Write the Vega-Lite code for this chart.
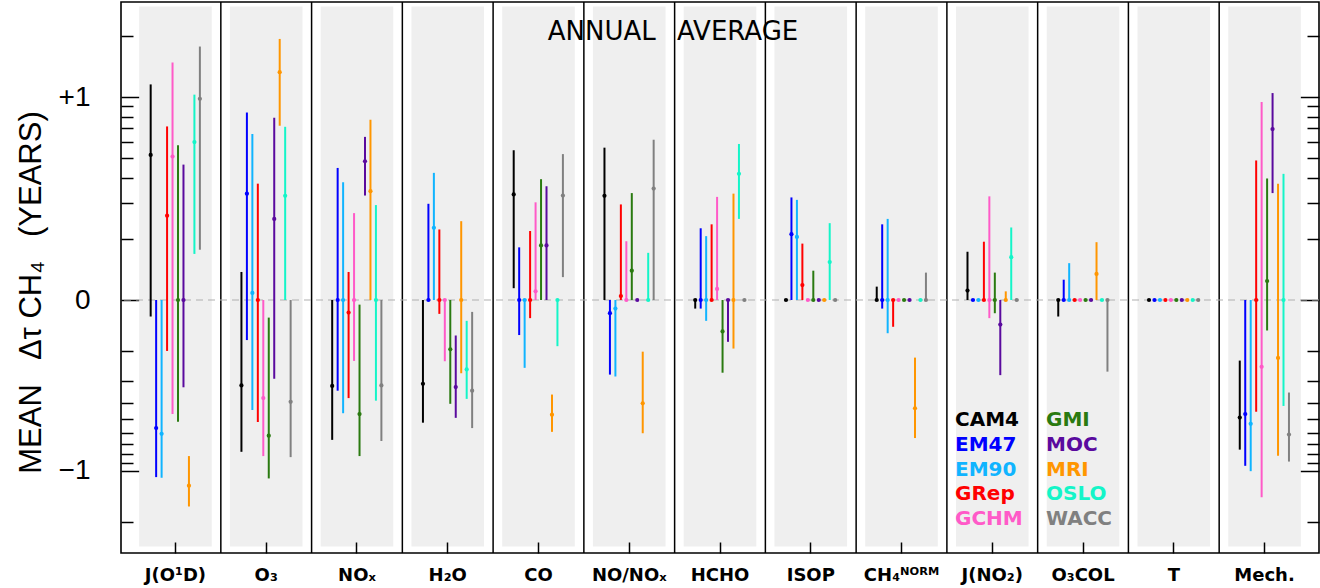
{
  "$schema": "https://vega.github.io/schema/vega-lite/v6.json",
  "width": 1198,
  "height": 551,
  "autosize": "none",
  "padding": {"left": 121, "top": 2, "right": 1, "bottom": 35},
  "background": "white",
  "config": {"view": {"stroke": "black", "strokeWidth": 1.6}, "font": "DejaVu Sans"},
  "title": {"text": "ANNUAL\u2002 AVERAGE", "anchor": "middle", "frame": "group", "orient": "top", "offset": 0, "baseline": "alphabetic", "dy": 65, "dx": -47, "fontSize": 26, "font": "DejaVu Sans", "fontWeight": "normal", "color": "black"},
  "datasets": {
    "cats": [
      {"cat": "J(O¹D)"}, {"cat": "O₃"}, {"cat": "NOₓ"}, {"cat": "H₂O"}, {"cat": "CO"}, {"cat": "NO/NOₓ"}, {"cat": "HCHO"}, {"cat": "ISOP"}, {"cat": "CH₄ᴺᴼᴿᴹ"}, {"cat": "J(NO₂)"}, {"cat": "O₃COL"}, {"cat": "T"}, {"cat": "Mech."}
    ],
    "d": [
      {"cat": "J(O¹D)", "model": "CAM4", "mean": 0.52, "lo": -0.125, "hi": 1.16},
      {"cat": "J(O¹D)", "model": "EM47", "mean": -0.566, "lo": -1.10, "hi": 0},
      {"cat": "J(O¹D)", "model": "EM90", "mean": -0.61, "lo": -1.11, "hi": 0},
      {"cat": "J(O¹D)", "model": "GRep", "mean": 0.261, "lo": -0.199, "hi": 0.717},
      {"cat": "J(O¹D)", "model": "GCHM", "mean": 0.51, "lo": -0.469, "hi": 1.48},
      {"cat": "J(O¹D)", "model": "GMI", "mean": 0, "lo": -0.519, "hi": 0.58},
      {"cat": "J(O¹D)", "model": "MOC", "mean": 0, "lo": -0.326, "hi": 0.467},
      {"cat": "J(O¹D)", "model": "MRI", "mean": -1.23, "lo": -1.64, "hi": -0.824},
      {"cat": "J(O¹D)", "model": "OSLO", "mean": 0.6, "lo": 0.169, "hi": 1.03},
      {"cat": "J(O¹D)", "model": "WACC", "mean": 0.98, "lo": 0.177, "hi": 1.79},
      {"cat": "O₃", "model": "CAM4", "mean": -0.318, "lo": -0.778, "hi": 0.138},
      {"cat": "O₃", "model": "EM47", "mean": 0.335, "lo": -0.172, "hi": 0.84},
      {"cat": "O₃", "model": "EM90", "mean": 0.109, "lo": -0.444, "hi": 0.659},
      {"cat": "O₃", "model": "GRep", "mean": 0, "lo": -0.521, "hi": 0.375},
      {"cat": "O₃", "model": "GCHM", "mean": -0.377, "lo": -0.824, "hi": 0},
      {"cat": "O₃", "model": "GMI", "mean": -0.626, "lo": -1.12, "hi": -0.127},
      {"cat": "O₃", "model": "MOC", "mean": 0.251, "lo": -0.29, "hi": 0.79},
      {"cat": "O₃", "model": "MRI", "mean": 1.33, "lo": 0.723, "hi": 1.94},
      {"cat": "O₃", "model": "OSLO", "mean": 0.327, "lo": 0, "hi": 0.714},
      {"cat": "O₃", "model": "WACC", "mean": -0.396, "lo": -0.836, "hi": 0},
      {"cat": "NOₓ", "model": "CAM4", "mean": -0.32, "lo": -0.663, "hi": 0},
      {"cat": "NOₓ", "model": "EM47", "mean": 0, "lo": -0.341, "hi": 0.45},
      {"cat": "NOₓ", "model": "EM90", "mean": 0, "lo": -0.464, "hi": 0.381},
      {"cat": "NOₓ", "model": "GRep", "mean": -0.119, "lo": -0.377, "hi": 0.138},
      {"cat": "NOₓ", "model": "GCHM", "mean": 0, "lo": -0.229, "hi": 0.269},
      {"cat": "NOₓ", "model": "GMI", "mean": -0.469, "lo": -0.824, "hi": -0.107},
      {"cat": "NOₓ", "model": "MOC", "mean": 0.484, "lo": 0.328, "hi": 0.638},
      {"cat": "NOₓ", "model": "MRI", "mean": 0.344, "lo": 0, "hi": 0.774},
      {"cat": "NOₓ", "model": "OSLO", "mean": 0, "lo": -0.39, "hi": 0.294},
      {"cat": "NOₓ", "model": "WACC", "mean": -0.318, "lo": -0.673, "hi": 0},
      {"cat": "H₂O", "model": "CAM4", "mean": -0.311, "lo": -0.526, "hi": 0},
      {"cat": "H₂O", "model": "EM47", "mean": 0, "lo": 0, "hi": 0.298},
      {"cat": "H₂O", "model": "EM90", "mean": 0.228, "lo": 0, "hi": 0.425},
      {"cat": "H₂O", "model": "GRep", "mean": 0, "lo": -0.121, "hi": 0.224},
      {"cat": "H₂O", "model": "GCHM", "mean": 0, "lo": -0.23, "hi": 0},
      {"cat": "H₂O", "model": "GMI", "mean": -0.195, "lo": -0.407, "hi": 0},
      {"cat": "H₂O", "model": "MOC", "mean": -0.325, "lo": -0.492, "hi": -0.162},
      {"cat": "H₂O", "model": "MRI", "mean": 0, "lo": -0.27, "hi": 0.245},
      {"cat": "H₂O", "model": "OSLO", "mean": -0.256, "lo": -0.381, "hi": -0.133},
      {"cat": "H₂O", "model": "WACC", "mean": -0.341, "lo": -0.566, "hi": -0.118},
      {"cat": "CO", "model": "CAM4", "mean": 0.332, "lo": 0.115, "hi": 0.549},
      {"cat": "CO", "model": "EM47", "mean": 0, "lo": -0.161, "hi": 0.182},
      {"cat": "CO", "model": "EM90", "mean": 0, "lo": -0.25, "hi": 0},
      {"cat": "CO", "model": "GRep", "mean": 0, "lo": -0.128, "hi": 0.22},
      {"cat": "CO", "model": "GCHM", "mean": 0.111, "lo": 0, "hi": 0.303},
      {"cat": "CO", "model": "GMI", "mean": 0.186, "lo": 0, "hi": 0.394},
      {"cat": "CO", "model": "MOC", "mean": 0.186, "lo": 0, "hi": 0.364},
      {"cat": "CO", "model": "MRI", "mean": -0.473, "lo": -0.594, "hi": -0.359},
      {"cat": "CO", "model": "OSLO", "mean": 0, "lo": -0.187, "hi": 0},
      {"cat": "CO", "model": "WACC", "mean": 0.328, "lo": 0.13, "hi": 0.525},
      {"cat": "NO/NOₓ", "model": "CAM4", "mean": 0.327, "lo": 0, "hi": 0.565},
      {"cat": "NO/NOₓ", "model": "EM47", "mean": -0.12, "lo": -0.275, "hi": 0},
      {"cat": "NO/NOₓ", "model": "EM90", "mean": -0.113, "lo": -0.282, "hi": 0},
      {"cat": "NO/NOₓ", "model": "GRep", "mean": 0.105, "lo": 0, "hi": 0.296},
      {"cat": "NO/NOₓ", "model": "GCHM", "mean": 0, "lo": 0, "hi": 0.195},
      {"cat": "NO/NOₓ", "model": "GMI", "mean": 0.14, "lo": 0, "hi": 0.337},
      {"cat": "NO/NOₓ", "model": "MOC", "mean": 0, "lo": 0, "hi": 0},
      {"cat": "NO/NOₓ", "model": "MRI", "mean": -0.404, "lo": -0.605, "hi": -0.201},
      {"cat": "NO/NOₓ", "model": "OSLO", "mean": 0, "lo": 0, "hi": 0.171},
      {"cat": "NO/NOₓ", "model": "WACC", "mean": 0.354, "lo": 0, "hi": 0.617},
      {"cat": "HCHO", "model": "CAM4", "mean": 0, "lo": -0.113, "hi": 0},
      {"cat": "HCHO", "model": "EM47", "mean": 0, "lo": -0.113, "hi": 0.227},
      {"cat": "HCHO", "model": "EM90", "mean": 0, "lo": -0.133, "hi": 0.207},
      {"cat": "HCHO", "model": "GRep", "mean": 0, "lo": 0, "hi": 0.237},
      {"cat": "HCHO", "model": "GCHM", "mean": 0.114, "lo": 0, "hi": 0.323},
      {"cat": "HCHO", "model": "GMI", "mean": -0.153, "lo": -0.268, "hi": 0},
      {"cat": "HCHO", "model": "MOC", "mean": 0, "lo": -0.176, "hi": 0},
      {"cat": "HCHO", "model": "MRI", "mean": 0, "lo": -0.193, "hi": 0.335},
      {"cat": "HCHO", "model": "OSLO", "mean": 0.42, "lo": 0.251, "hi": 0.588},
      {"cat": "HCHO", "model": "WACC", "mean": 0, "lo": 0, "hi": 0},
      {"cat": "ISOP", "model": "CAM4", "mean": 0, "lo": 0, "hi": 0},
      {"cat": "ISOP", "model": "EM47", "mean": 0.212, "lo": 0, "hi": 0.321},
      {"cat": "ISOP", "model": "EM90", "mean": 0.205, "lo": 0, "hi": 0.312},
      {"cat": "ISOP", "model": "GRep", "mean": 0.119, "lo": 0, "hi": 0.19},
      {"cat": "ISOP", "model": "GCHM", "mean": 0, "lo": 0, "hi": 0},
      {"cat": "ISOP", "model": "GMI", "mean": 0, "lo": 0, "hi": 0.14},
      {"cat": "ISOP", "model": "MOC", "mean": 0, "lo": 0, "hi": 0},
      {"cat": "ISOP", "model": "MRI", "mean": 0, "lo": 0, "hi": 0},
      {"cat": "ISOP", "model": "OSLO", "mean": 0.154, "lo": 0, "hi": 0.24},
      {"cat": "ISOP", "model": "WACC", "mean": 0, "lo": 0, "hi": 0},
      {"cat": "CH₄ᴺᴼᴿᴹ", "model": "CAM4", "mean": 0, "lo": 0, "hi": 0.117},
      {"cat": "CH₄ᴺᴼᴿᴹ", "model": "EM47", "mean": 0, "lo": -0.113, "hi": 0.237},
      {"cat": "CH₄ᴺᴼᴿᴹ", "model": "EM90", "mean": 0, "lo": -0.157, "hi": 0.251},
      {"cat": "CH₄ᴺᴼᴿᴹ", "model": "GRep", "mean": 0, "lo": -0.144, "hi": 0},
      {"cat": "CH₄ᴺᴼᴿᴹ", "model": "GCHM", "mean": 0, "lo": 0, "hi": 0},
      {"cat": "CH₄ᴺᴼᴿᴹ", "model": "GMI", "mean": 0, "lo": 0, "hi": 0},
      {"cat": "CH₄ᴺᴼᴿᴹ", "model": "MOC", "mean": 0, "lo": 0, "hi": 0},
      {"cat": "CH₄ᴺᴼᴿᴹ", "model": "MRI", "mean": -0.434, "lo": -0.647, "hi": -0.219},
      {"cat": "CH₄ᴺᴼᴿᴹ", "model": "OSLO", "mean": 0, "lo": 0, "hi": 0},
      {"cat": "CH₄ᴺᴼᴿᴹ", "model": "WACC", "mean": 0, "lo": 0, "hi": 0.137},
      {"cat": "J(NO₂)", "model": "CAM4", "mean": 0.112, "lo": 0, "hi": 0.173},
      {"cat": "J(NO₂)", "model": "EM47", "mean": 0, "lo": 0, "hi": 0},
      {"cat": "J(NO₂)", "model": "EM90", "mean": 0, "lo": 0, "hi": 0},
      {"cat": "J(NO₂)", "model": "GRep", "mean": 0, "lo": 0, "hi": 0.194},
      {"cat": "J(NO₂)", "model": "GCHM", "mean": 0, "lo": -0.128, "hi": 0.325},
      {"cat": "J(NO₂)", "model": "GMI", "mean": 0, "lo": -0.12, "hi": 0.137},
      {"cat": "J(NO₂)", "model": "MOC", "mean": -0.14, "lo": -0.277, "hi": 0},
      {"cat": "J(NO₂)", "model": "MRI", "mean": 0, "lo": 0, "hi": 0.111},
      {"cat": "J(NO₂)", "model": "OSLO", "mean": 0.163, "lo": 0, "hi": 0.229},
      {"cat": "J(NO₂)", "model": "WACC", "mean": 0, "lo": 0, "hi": 0},
      {"cat": "O₃COL", "model": "CAM4", "mean": 0, "lo": -0.125, "hi": 0},
      {"cat": "O₃COL", "model": "EM47", "mean": 0, "lo": 0, "hi": 0.126},
      {"cat": "O₃COL", "model": "EM90", "mean": 0, "lo": 0, "hi": 0.152},
      {"cat": "O₃COL", "model": "GRep", "mean": 0, "lo": 0, "hi": 0},
      {"cat": "O₃COL", "model": "GCHM", "mean": 0, "lo": 0, "hi": 0},
      {"cat": "O₃COL", "model": "GMI", "mean": 0, "lo": 0, "hi": 0},
      {"cat": "O₃COL", "model": "MOC", "mean": 0, "lo": 0, "hi": 0},
      {"cat": "O₃COL", "model": "MRI", "mean": 0.135, "lo": 0, "hi": 0.193},
      {"cat": "O₃COL", "model": "OSLO", "mean": 0, "lo": 0, "hi": 0},
      {"cat": "O₃COL", "model": "WACC", "mean": 0, "lo": -0.264, "hi": 0},
      {"cat": "T", "model": "CAM4", "mean": 0, "lo": 0, "hi": 0},
      {"cat": "T", "model": "EM47", "mean": 0, "lo": 0, "hi": 0},
      {"cat": "T", "model": "EM90", "mean": 0, "lo": 0, "hi": 0},
      {"cat": "T", "model": "GRep", "mean": 0, "lo": 0, "hi": 0},
      {"cat": "T", "model": "GCHM", "mean": 0, "lo": 0, "hi": 0},
      {"cat": "T", "model": "GMI", "mean": 0, "lo": 0, "hi": 0},
      {"cat": "T", "model": "MOC", "mean": 0, "lo": 0, "hi": 0},
      {"cat": "T", "model": "MRI", "mean": 0, "lo": 0, "hi": 0},
      {"cat": "T", "model": "OSLO", "mean": 0, "lo": 0, "hi": 0},
      {"cat": "T", "model": "WACC", "mean": 0, "lo": 0, "hi": 0},
      {"cat": "Mech.", "model": "CAM4", "mean": -0.49, "lo": -0.756, "hi": -0.228},
      {"cat": "Mech.", "model": "EM47", "mean": -0.469, "lo": -0.94, "hi": 0},
      {"cat": "Mech.", "model": "EM90", "mean": -0.534, "lo": -1.01, "hi": 0},
      {"cat": "Mech.", "model": "GRep", "mean": 0, "lo": -0.455, "hi": 0.488},
      {"cat": "Mech.", "model": "GCHM", "mean": -0.247, "lo": -1.44, "hi": 0.945},
      {"cat": "Mech.", "model": "GMI", "mean": 0.124, "lo": -0.151, "hi": 0.397},
      {"cat": "Mech.", "model": "MOC", "mean": 0.695, "lo": 0.337, "hi": 1.05},
      {"cat": "Mech.", "model": "MRI", "mean": -0.22, "lo": -0.82, "hi": 0.375},
      {"cat": "Mech.", "model": "OSLO", "mean": 0, "lo": -0.42, "hi": 0.42},
      {"cat": "Mech.", "model": "WACC", "mean": -0.617, "lo": -0.887, "hi": -0.349}
    ]
  },
  "layer": [
    {
      "data": {"name": "cats"},
      "mark": {"type": "rect", "color": "#efefef"},
      "encoding": {
        "x": {"field": "cat", "type": "nominal", "bandPosition": 0.1, "scale": {"type": "band", "domain": ["J(O¹D)", "O₃", "NOₓ", "H₂O", "CO", "NO/NOₓ", "HCHO", "ISOP", "CH₄ᴺᴼᴿᴹ", "J(NO₂)", "O₃COL", "T", "Mech."], "paddingInner": 0, "paddingOuter": 0.1},
          "axis": {"orient": "bottom", "title": null, "domain": false, "grid": false, "tickSize": -11, "tickColor": "black", "tickWidth": 1.5, "labelAngle": 0, "labelFontSize": 18, "labelFont": "DejaVu Sans", "labelFontWeight": "bold", "labelColor": "black", "labelPadding": 24, "labelBaseline": "top"}},
        "x2": {"field": "cat", "bandPosition": 0.9},
        "y": {"datum": 2.8, "type": "quantitative", "axis": null, "scale": {"type": "linear", "zero": false, "nice": false, "domain": [-3.05, -2.5, -2, -1.5, -1.25, -1, -0.9, -0.8, -0.7, -0.6, -0.5, -0.4, -0.35, -0.3, -0.25, -0.2, -0.175, -0.15, -0.125, -0.1, 0.1, 0.125, 0.15, 0.175, 0.2, 0.25, 0.3, 0.35, 0.4, 0.5, 0.6, 0.7, 0.8, 0.9, 1, 1.25, 1.5, 2, 2.5, 2.94], "range": [551, 536.35, 519.83, 498.52, 485.02, 468.5, 460.7, 451.98, 442.09, 430.67, 417.17, 400.65, 390.76, 379.35, 365.85, 349.33, 339.44, 328.02, 314.52, 298, 298, 278.33, 262.25, 248.66, 236.89, 217.22, 201.14, 187.55, 175.78, 156.11, 140.04, 126.44, 114.67, 104.29, 95, 75.33, 59.25, 33.89, 14.22, 0]}},
        "y2": {"datum": -2.81}
      }
    },
    {
      "data": {"name": "cats"},
      "transform": [{"filter": "datum.cat != 'J(O¹D)'"}],
      "mark": {"type": "rule", "color": "black", "strokeWidth": 1.5},
      "encoding": {
        "x": {"field": "cat", "type": "nominal", "bandPosition": 0, "scale": {"type": "band", "domain": ["J(O¹D)", "O₃", "NOₓ", "H₂O", "CO", "NO/NOₓ", "HCHO", "ISOP", "CH₄ᴺᴼᴿᴹ", "J(NO₂)", "O₃COL", "T", "Mech."], "paddingInner": 0, "paddingOuter": 0.1},
          "axis": {"orient": "bottom", "title": null, "domain": false, "grid": false, "tickSize": -11, "tickColor": "black", "tickWidth": 1.5, "labelAngle": 0, "labelFontSize": 18, "labelFont": "DejaVu Sans", "labelFontWeight": "bold", "labelColor": "black", "labelPadding": 24, "labelBaseline": "top"}}
      }
    },
    {
      "data": {"values": [{}]},
      "mark": {"type": "rule", "color": "#b0b0b0", "strokeDash": [7, 5], "strokeWidth": 1.2},
      "encoding": {
        "y": {"datum": 0, "type": "quantitative", "axis": null, "scale": {"type": "linear", "zero": false, "nice": false, "domain": [-3.05, -2.5, -2, -1.5, -1.25, -1, -0.9, -0.8, -0.7, -0.6, -0.5, -0.4, -0.35, -0.3, -0.25, -0.2, -0.175, -0.15, -0.125, -0.1, 0.1, 0.125, 0.15, 0.175, 0.2, 0.25, 0.3, 0.35, 0.4, 0.5, 0.6, 0.7, 0.8, 0.9, 1, 1.25, 1.5, 2, 2.5, 2.94], "range": [551, 536.35, 519.83, 498.52, 485.02, 468.5, 460.7, 451.98, 442.09, 430.67, 417.17, 400.65, 390.76, 379.35, 365.85, 349.33, 339.44, 328.02, 314.52, 298, 298, 278.33, 262.25, 248.66, 236.89, 217.22, 201.14, 187.55, 175.78, 156.11, 140.04, 126.44, 114.67, 104.29, 95, 75.33, 59.25, 33.89, 14.22, 0]}}
      }
    },
    {
      "data": {"name": "d"},
      "mark": {"type": "rule", "strokeWidth": 2},
      "encoding": {
        "x": {"field": "cat", "type": "nominal", "scale": {"type": "band", "domain": ["J(O¹D)", "O₃", "NOₓ", "H₂O", "CO", "NO/NOₓ", "HCHO", "ISOP", "CH₄ᴺᴼᴿᴹ", "J(NO₂)", "O₃COL", "T", "Mech."], "paddingInner": 0, "paddingOuter": 0.1},
          "axis": {"orient": "bottom", "title": null, "domain": false, "grid": false, "tickSize": -11, "tickColor": "black", "tickWidth": 1.5, "labelAngle": 0, "labelFontSize": 18, "labelFont": "DejaVu Sans", "labelFontWeight": "bold", "labelColor": "black", "labelPadding": 24, "labelBaseline": "top"}},
        "xOffset": {"field": "model", "type": "nominal", "scale": {"type": "point", "padding": 0, "range": [20.6, 69.8], "domain": ["CAM4", "EM47", "EM90", "GRep", "GCHM", "GMI", "MOC", "MRI", "OSLO", "WACC"]}},
        "y": {"field": "lo", "type": "quantitative", "scale": {"type": "linear", "zero": false, "nice": false, "domain": [-3.05, -2.5, -2, -1.5, -1.25, -1, -0.9, -0.8, -0.7, -0.6, -0.5, -0.4, -0.35, -0.3, -0.25, -0.2, -0.175, -0.15, -0.125, -0.1, 0.1, 0.125, 0.15, 0.175, 0.2, 0.25, 0.3, 0.35, 0.4, 0.5, 0.6, 0.7, 0.8, 0.9, 1, 1.25, 1.5, 2, 2.5, 2.94], "range": [551, 536.35, 519.83, 498.52, 485.02, 468.5, 460.7, 451.98, 442.09, 430.67, 417.17, 400.65, 390.76, 379.35, 365.85, 349.33, 339.44, 328.02, 314.52, 298, 298, 278.33, 262.25, 248.66, 236.89, 217.22, 201.14, 187.55, 175.78, 156.11, 140.04, 126.44, 114.67, 104.29, 95, 75.33, 59.25, 33.89, 14.22, 0]},
          "axis": {"orient": "left", "values": [-2, -1, -0.9, -0.8, -0.7, -0.6, -0.5, -0.4, -0.3, -0.2, 0, 0.2, 0.3, 0.4, 0.5, 0.6, 0.7, 0.8, 0.9, 1, 2], "tickSize": {"condition": {"test": "datum.value === 0 || abs(datum.value) === 1", "value": -24}, "value": -12}, "tickColor": "black", "tickWidth": 1.5, "domain": false, "grid": false, "labelExpr": "datum.value === 1 ? '+1' : datum.value === -1 ? '−1' : datum.value === 0 ? '0' : ''", "labelFontSize": 28, "labelFont": "Liberation Sans", "labelColor": "black", "labelPadding": 55, "labelOverlap": false, "labelFlush": false, "labelBound": false, "title": "MEAN\u2002 Δτ CH₄\u2002 (YEARS)", "titleFontSize": 31, "titleFont": "Liberation Sans", "titleFontWeight": "normal", "titleColor": "black", "titleX": -90, "titleY": 290, "titleAngle": -90, "titleAlign": "center", "titleBaseline": "middle"}},
        "y2": {"field": "hi"},
        "color": {"field": "model", "type": "nominal", "scale": {"domain": ["CAM4", "EM47", "EM90", "GRep", "GCHM", "GMI", "MOC", "MRI", "OSLO", "WACC"], "range": ["#000000", "#0000ff", "#10b4ff", "#ff0000", "#ff5ac8", "#2a7a10", "#5a0a9e", "#ff9600", "#14f5c8", "#808080"]},
          "legend": {"orient": "none", "legendX": 814, "legendY": 408, "columns": 2, "values": ["CAM4", "EM47", "EM90", "GRep", "GCHM", "GMI", "MOC", "MRI", "OSLO", "WACC"], "title": null, "symbolSize": 0, "symbolStrokeWidth": 0, "symbolOpacity": 0, "labelFontSize": 20, "labelFont": "DejaVu Sans", "labelFontWeight": "bold", "labelOffset": 0, "rowPadding": 4.75, "columnPadding": 3, "labelLimit": 0, "padding": 0, "labelColor": {"expr": "scale('color', datum.value)"}}}
      }
    },
    {
      "data": {"name": "d"},
      "mark": {"type": "circle", "size": 18, "opacity": 1},
      "encoding": {
        "x": {"field": "cat", "type": "nominal", "scale": {"type": "band", "domain": ["J(O¹D)", "O₃", "NOₓ", "H₂O", "CO", "NO/NOₓ", "HCHO", "ISOP", "CH₄ᴺᴼᴿᴹ", "J(NO₂)", "O₃COL", "T", "Mech."], "paddingInner": 0, "paddingOuter": 0.1},
          "axis": {"orient": "bottom", "title": null, "domain": false, "grid": false, "tickSize": -11, "tickColor": "black", "tickWidth": 1.5, "labelAngle": 0, "labelFontSize": 18, "labelFont": "DejaVu Sans", "labelFontWeight": "bold", "labelColor": "black", "labelPadding": 24, "labelBaseline": "top"}},
        "xOffset": {"field": "model", "type": "nominal", "scale": {"type": "point", "padding": 0, "range": [20.6, 69.8], "domain": ["CAM4", "EM47", "EM90", "GRep", "GCHM", "GMI", "MOC", "MRI", "OSLO", "WACC"]}},
        "y": {"field": "mean", "type": "quantitative", "scale": {"type": "linear", "zero": false, "nice": false, "domain": [-3.05, -2.5, -2, -1.5, -1.25, -1, -0.9, -0.8, -0.7, -0.6, -0.5, -0.4, -0.35, -0.3, -0.25, -0.2, -0.175, -0.15, -0.125, -0.1, 0.1, 0.125, 0.15, 0.175, 0.2, 0.25, 0.3, 0.35, 0.4, 0.5, 0.6, 0.7, 0.8, 0.9, 1, 1.25, 1.5, 2, 2.5, 2.94], "range": [551, 536.35, 519.83, 498.52, 485.02, 468.5, 460.7, 451.98, 442.09, 430.67, 417.17, 400.65, 390.76, 379.35, 365.85, 349.33, 339.44, 328.02, 314.52, 298, 298, 278.33, 262.25, 248.66, 236.89, 217.22, 201.14, 187.55, 175.78, 156.11, 140.04, 126.44, 114.67, 104.29, 95, 75.33, 59.25, 33.89, 14.22, 0]},
          "axis": {"orient": "right", "values": [-2, -1, -0.9, -0.8, -0.7, -0.6, -0.5, -0.4, -0.3, -0.2, 0, 0.2, 0.3, 0.4, 0.5, 0.6, 0.7, 0.8, 0.9, 1, 2], "tickSize": {"condition": {"test": "datum.value === 0 || abs(datum.value) === 1", "value": -24}, "value": -12}, "tickColor": "black", "tickWidth": 1.5, "domain": false, "grid": false, "labels": false, "title": null}},
        "color": {"field": "model", "type": "nominal", "scale": {"domain": ["CAM4", "EM47", "EM90", "GRep", "GCHM", "GMI", "MOC", "MRI", "OSLO", "WACC"], "range": ["#000000", "#0000ff", "#10b4ff", "#ff0000", "#ff5ac8", "#2a7a10", "#5a0a9e", "#ff9600", "#14f5c8", "#808080"]},
          "legend": {"orient": "none", "legendX": 814, "legendY": 408, "columns": 2, "values": ["CAM4", "EM47", "EM90", "GRep", "GCHM", "GMI", "MOC", "MRI", "OSLO", "WACC"], "title": null, "symbolSize": 0, "symbolStrokeWidth": 0, "symbolOpacity": 0, "labelFontSize": 20, "labelFont": "DejaVu Sans", "labelFontWeight": "bold", "labelOffset": 0, "rowPadding": 4.75, "columnPadding": 3, "labelLimit": 0, "padding": 0, "labelColor": {"expr": "scale('color', datum.value)"}}}
      }
    }
  ],
  "resolve": {"axis": {"y": "independent"}}
}
